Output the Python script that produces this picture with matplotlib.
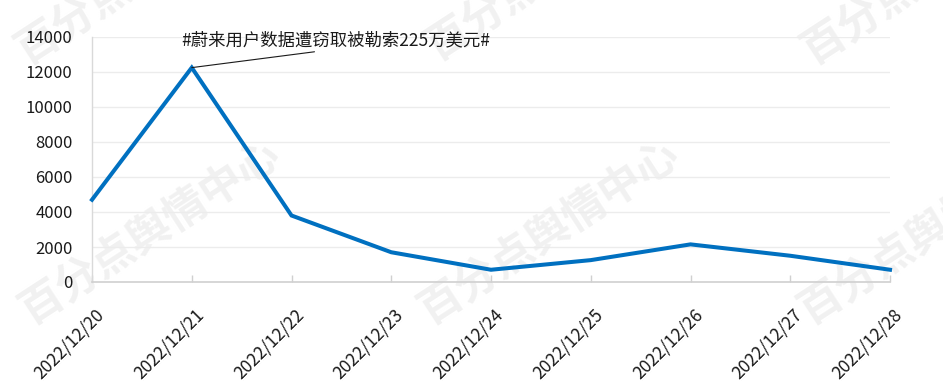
import matplotlib
matplotlib.use("Agg")
import matplotlib.pyplot as plt
import matplotlib.transforms as mtransforms

plt.rcParams['font.family'] = ['Noto Sans CJK SC', 'DejaVu Sans']

dates = ["2022/12/20", "2022/12/21", "2022/12/22", "2022/12/23", "2022/12/24",
         "2022/12/25", "2022/12/26", "2022/12/27", "2022/12/28"]
values = [4700, 12250, 3800, 1700, 700, 1250, 2150, 1500, 700]
yticks = [0, 2000, 4000, 6000, 8000, 10000, 12000, 14000]
annotation_text = "#蔚来用户数据遭窃取被勒索225万美元#"
annotation_index = 1
watermark_text = "百分点舆情中心"

W, H = 943, 391
fig = plt.figure(figsize=(W / 100, H / 100), dpi=100)
fig.patch.set_facecolor("white")

left, right, top, bottom = 92, 890, 37, 282
ax = fig.add_axes([left / W, 1 - bottom / H, (right - left) / W, (bottom - top) / H])
ax.set_facecolor("none")
ax.set_zorder(1)

# watermarks (figure pixel centres)
wm_centers = [(150, 232), (549, 232), (929, 232), (146, -28), (556, -32), (932, -28)]
for cx, cy in wm_centers:
    fig.text(cx / W, 1 - cy / H, watermark_text, fontsize=31, fontweight="bold",
             color="#f1f1f1", rotation=33, rotation_mode="anchor",
             ha="center", va="center", zorder=-1)

x = list(range(len(dates)))
ax.plot(x, values, color="#0070c0", lw=2.9, solid_joinstyle="miter", zorder=3, clip_on=False)

ax.set_xlim(0, len(dates) - 1)
ax.set_ylim(0, 14000)
ax.set_yticks(yticks)
ax.set_yticklabels([str(v) for v in yticks])
ax.yaxis.grid(True, color="#ececec", lw=1)
ax.set_axisbelow(True)

for s in ["top", "right"]:
    ax.spines[s].set_visible(False)
ax.spines["left"].set_color("#d9d9d9")
ax.spines["bottom"].set_color("#d0d0d0")
ax.spines["left"].set_linewidth(1)
ax.spines["bottom"].set_linewidth(1.2)

ax.tick_params(axis="y", length=0, pad=14, labelsize=12, labelcolor="#1a1a1a")
ax.tick_params(axis="x", direction="in", length=5, color="#d0d0d0", width=1,
               pad=17, labelsize=12.5, labelcolor="#1a1a1a")
ax.set_xticks(x)
ax.set_xticklabels(dates, rotation=45, ha="right", va="top", rotation_mode="anchor")
offset = mtransforms.ScaledTranslation(3 / 100, 0, fig.dpi_scale_trans)
for lab in ax.get_xticklabels():
    lab.set_transform(lab.get_transform() + offset)

ax.annotate(annotation_text, xy=(annotation_index, values[annotation_index]),
            xycoords="data", xytext=(336, H - 49), textcoords="figure pixels",
            ha="center", va="bottom", fontsize=12.5, color="#1a1a1a",
            arrowprops=dict(arrowstyle="-", color="#1a1a1a", lw=0.8,
                            shrinkA=0, shrinkB=0, relpos=(0.5, 0)))

fig.savefig("out.png", dpi=100, facecolor="white")
